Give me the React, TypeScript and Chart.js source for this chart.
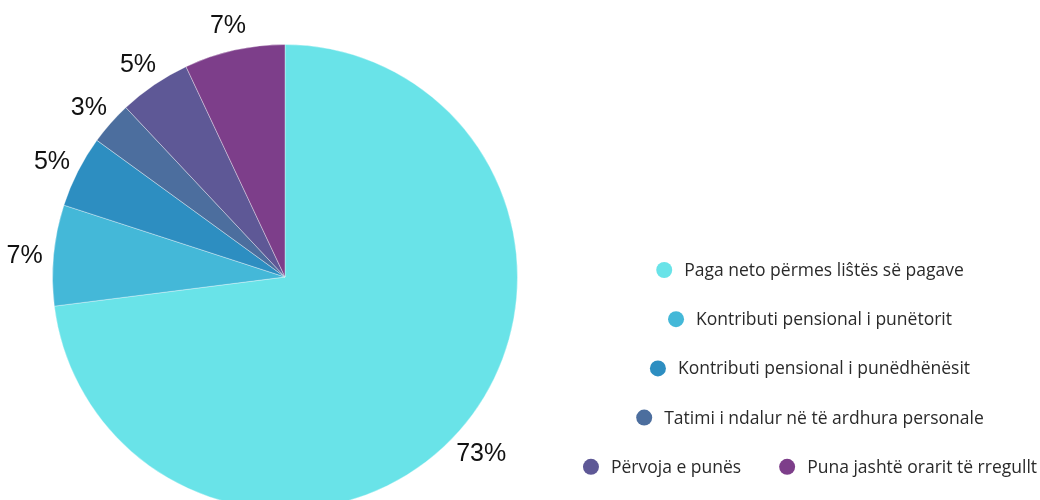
import React, { useEffect, useRef } from "react";
import { Chart, registerables } from "chart.js";

Chart.register(...registerables);

const categories = [
  "Paga neto përmes liŝtës së pagave",
  "Kontributi pensional i punëtorit",
  "Kontributi pensional i punëdhënësit",
  "Tatimi i ndalur në të ardhura personale",
  "Përvoja e punës",
  "Puna jashtë orarit të rregullt",
];
const values = [73, 7, 5, 3, 5, 7];
const valueLabels = ["73%", "7%", "5%", "3%", "5%", "7%"];
const colors = ["#69E3E8", "#44B8D8", "#2D8EC1", "#4C6E9E", "#5E5896", "#7D3E8A"];
const legendRows = [[0], [1], [2], [3], [4, 5]];

const labelPlugin = {
  id: "sliceLabels",
  afterDatasetsDraw(chart: any) {
    const ctx = chart.ctx;
    const meta = chart.getDatasetMeta(0);
    ctx.save();
    ctx.font = '25px "Liberation Sans", Arial, sans-serif';
    ctx.fillStyle = "#111";
    ctx.textAlign = "center";
    ctx.textBaseline = "middle";
    meta.data.forEach((arc: any, i: number) => {
      const { x, y, startAngle, endAngle, outerRadius } = arc.getProps(
        ["x", "y", "startAngle", "endAngle", "outerRadius"],
        true
      );
      const mid = (startAngle + endAngle) / 2;
      const r = outerRadius + 29;
      ctx.fillText(valueLabels[i], x + Math.cos(mid) * r, y + Math.sin(mid) * r + 4);
    });
    ctx.restore();
  },
};

const legendPlugin = {
  id: "customLegend",
  afterDraw(chart: any) {
    const ctx = chart.ctx;
    const bg = chart.data.datasets[0].backgroundColor;
    const labels = chart.data.labels;
    const cx = 810;
    const y0 = 270;
    const dy = 49.2;
    const mr = 8;
    const gap = 12;
    const itemGap = 38;
    ctx.save();
    ctx.font = '17.5px "Open Sans", sans-serif';
    ctx.textBaseline = "middle";
    ctx.textAlign = "left";
    legendRows.forEach((row, ri) => {
      const widths = row.map((i) => mr * 2 + gap + ctx.measureText(labels[i]).width);
      const total = widths.reduce((a, b) => a + b, 0) + itemGap * (row.length - 1);
      let x = cx - total / 2;
      const y = y0 + ri * dy;
      row.forEach((i, k) => {
        ctx.fillStyle = bg[i];
        ctx.beginPath();
        ctx.arc(x + mr, y, mr, 0, Math.PI * 2);
        ctx.fill();
        ctx.fillStyle = "#2a2a2a";
        ctx.fillText(labels[i], x + mr * 2 + gap, y + 1);
        x += widths[k] + itemGap;
      });
    });
    ctx.restore();
  },
};

export default function App() {
  const ref = useRef<HTMLCanvasElement>(null);
  useEffect(() => {
    document.body.style.margin = "0";
    const chart = new Chart(ref.current!, {
      type: "pie",
      data: {
        labels: categories,
        datasets: [
          {
            data: values,
            backgroundColor: colors,
            borderColor: "rgba(255,255,255,0.35)",
            borderWidth: 1,
          },
        ],
      },
      options: {
        responsive: false,
        animation: false,
        devicePixelRatio: 1,
        layout: { padding: { left: 52, right: 522, top: 44, bottom: 10 } },
        plugins: {
          legend: { display: false },
          tooltip: { enabled: false },
        },
      },
      plugins: [labelPlugin, legendPlugin],
    });
    return () => chart.destroy();
  }, []);
  return (
    <div style={{ width: 1040, height: 500, overflow: "hidden", background: "#fff" }}>
      <canvas ref={ref} width={1040} height={520} />
    </div>
  );
}
